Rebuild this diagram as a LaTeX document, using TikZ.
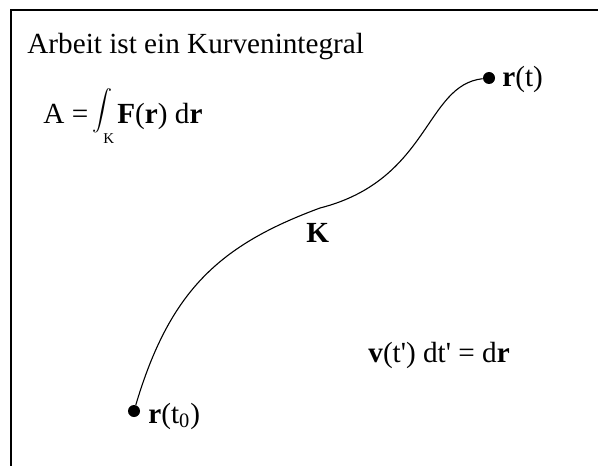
\documentclass[tikz,border=0pt]{standalone}
\usepackage{fontspec}
\setmainfont{Liberation Serif}[Ligatures=TeXOff]
\usetikzlibrary{positioning}

\begin{document}
\begin{tikzpicture}[
    x=0.5pt, y=-0.5pt,
    txt/.style={anchor=base west, inner sep=0pt, font=\fontsize{14.6}{17}\selectfont},
    dot/.style={circle, fill=black, inner sep=0pt, minimum size=6pt},
    frame/.style={line width=1pt},
    curve/.style={line width=0.55pt},
]
\useasboundingbox (0,0) rectangle (598,465);

% Frame (only top and left edge visible)
\coordinate (corner) at (10.5,10);
\coordinate (topend) at (600,10);
\coordinate (leftend) at (10.5,467);
\draw[frame] (topend) -- (corner) -- (leftend);

% Title and work integral
\node[txt] (title) at (27,54) {Arbeit ist ein Kurvenintegral};
\node[txt] (lhs) at (43,123) {A =};
\node[anchor=center, inner sep=0pt, font=\fontsize{11}{12}\selectfont] (intsign) at (102,111) {$\displaystyle\int$};
\node[txt, font=\fontsize{7.5}{8}\selectfont] (intsub) at (103,143) {K};
\node[txt] (integrand) at (117,123) {\textbf{F}(\textbf{r}) d\textbf{r}};

% End points of the path
\node[dot] (start) at (134,411) {};
\node[dot] (end) at (489,78) {};
\node[txt] (startlabel) at (148,423) {\textbf{r}(t\textsubscript{0})};
\node[txt] (endlabel) at (502,86) {\textbf{r}(t)};

% Curve K
\coordinate (mid) at (320,208);
\draw[curve] (start) .. controls (170,290) and (220,245) .. (mid)
    .. controls (430,180) and (425,85) .. (end);
\node[txt, font=\fontsize{14.6}{17}\selectfont\bfseries] (klabel) at (306,242) {K};

% Path element
\node[txt] (veleq) at (368,362) {\textbf{v}(t') dt' = d\textbf{r}};

\end{tikzpicture}
\end{document}
